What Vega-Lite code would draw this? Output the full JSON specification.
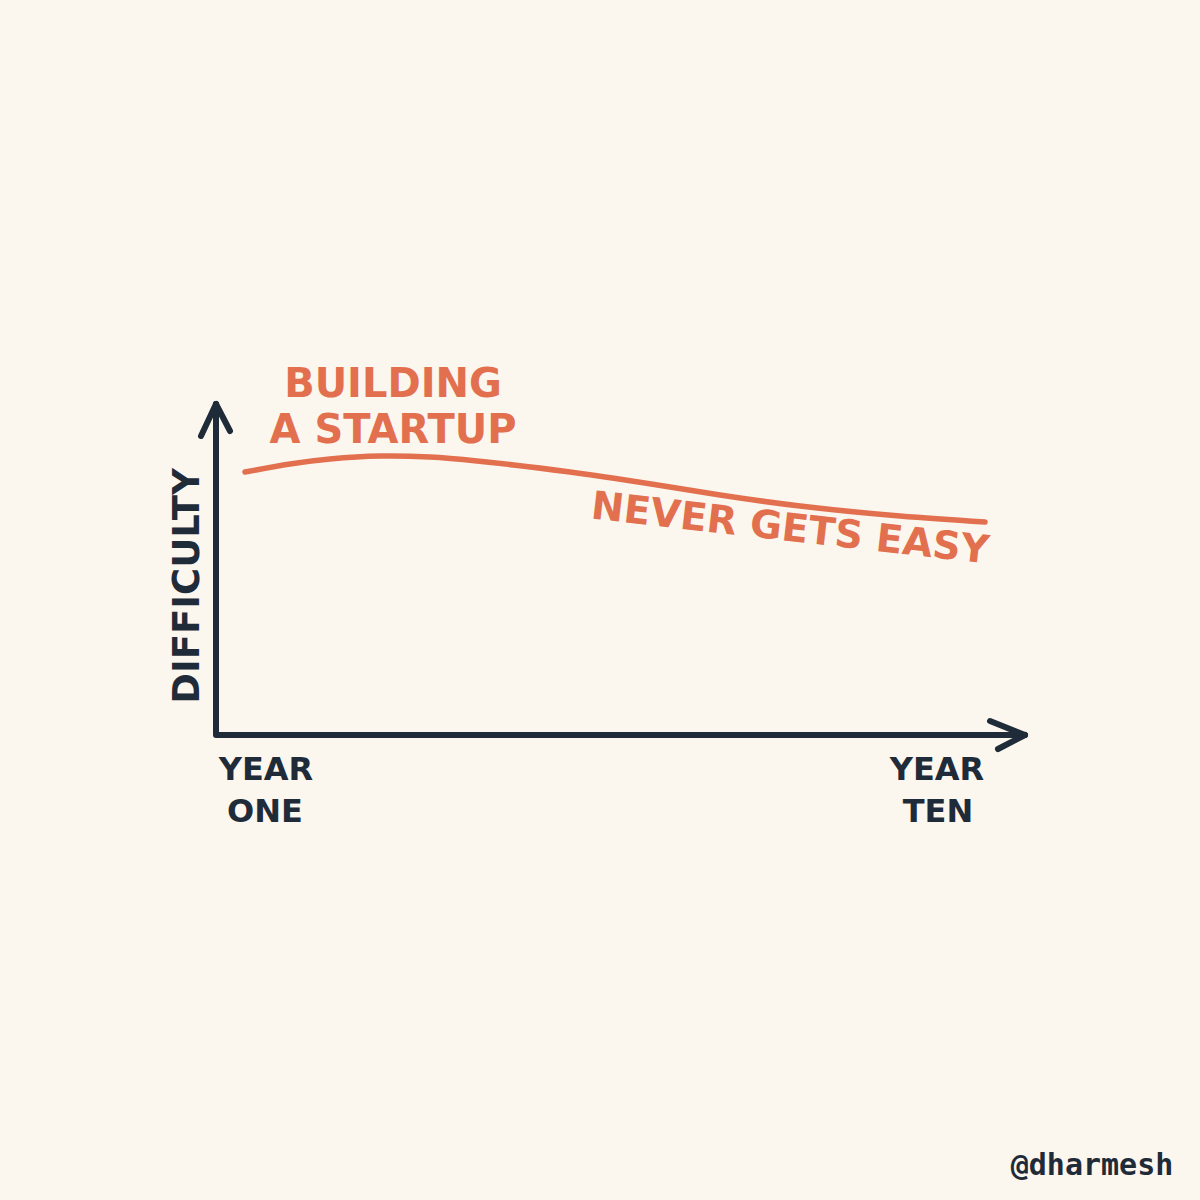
{
  "$schema": "https://vega.github.io/schema/vega-lite/v6.json",
  "width": 1200,
  "height": 1200,
  "autosize": {"type": "fit", "contains": "padding"},
  "padding": 0,
  "background": "#FBF6EE",
  "config": {"view": {"stroke": null}},
  "layer": [
    {
      "data": {"values": [
        {"x": 216, "y": 796, "seq": 1},
        {"x": 216, "y": 465, "seq": 2},
        {"x": 1025, "y": 465, "seq": 3}
      ]},
      "mark": {"type": "line", "color": "#1F2B38", "strokeWidth": 6, "strokeCap": "round", "strokeJoin": "round"},
      "encoding": {
        "x": {"field": "x", "type": "quantitative", "scale": {"domain": [0, 1200], "nice": false, "zero": false}, "axis": null},
        "y": {"field": "y", "type": "quantitative", "scale": {"domain": [0, 1200], "nice": false, "zero": false}, "axis": null},
        "order": {"field": "seq", "type": "quantitative"}
      }
    },
    {
      "data": {"values": [
        {"x": 201, "y": 764, "x2": 216, "y2": 796},
        {"x": 230, "y": 769, "x2": 216, "y2": 796},
        {"x": 990, "y": 479, "x2": 1025, "y2": 465},
        {"x": 998, "y": 451, "x2": 1025, "y2": 465}
      ]},
      "mark": {"type": "rule", "color": "#1F2B38", "strokeWidth": 6, "strokeCap": "round"},
      "encoding": {
        "x": {"field": "x", "type": "quantitative"},
        "y": {"field": "y", "type": "quantitative"},
        "x2": {"field": "x2"},
        "y2": {"field": "y2"}
      }
    },
    {
      "data": {"values": [
        {"x": 245, "y": 728},
        {"x": 290, "y": 736},
        {"x": 330, "y": 741},
        {"x": 380, "y": 744},
        {"x": 430, "y": 743},
        {"x": 477, "y": 739},
        {"x": 570, "y": 728},
        {"x": 670, "y": 713},
        {"x": 720, "y": 705},
        {"x": 800, "y": 694},
        {"x": 900, "y": 684},
        {"x": 985, "y": 678}
      ]},
      "mark": {"type": "line", "color": "#E2704F", "strokeWidth": 5.5, "strokeCap": "round", "interpolate": "natural"},
      "encoding": {
        "x": {"field": "x", "type": "quantitative"},
        "y": {"field": "y", "type": "quantitative"}
      }
    },
    {
      "data": {"values": [
        {"label": "BUILDING", "x": 393, "y": 803},
        {"label": "A STARTUP", "x": 393, "y": 757}
      ]},
      "mark": {"type": "text", "font": "DejaVu Sans", "fontWeight": "bold", "fontSize": 40, "color": "#E2704F", "align": "center", "baseline": "alphabetic"},
      "encoding": {
        "x": {"field": "x", "type": "quantitative"},
        "y": {"field": "y", "type": "quantitative"},
        "text": {"field": "label"}
      }
    },
    {
      "data": {"values": [
        {"label": "NEVER GETS EASY", "x": 790, "y": 671}
      ]},
      "mark": {"type": "text", "font": "DejaVu Sans", "fontWeight": "bold", "fontSize": 39, "color": "#E2704F", "align": "center", "baseline": "middle", "angle": 6.5},
      "encoding": {
        "x": {"field": "x", "type": "quantitative"},
        "y": {"field": "y", "type": "quantitative"},
        "text": {"field": "label"}
      }
    },
    {
      "data": {"values": [
        {"label": "YEAR", "x": 266, "y": 420},
        {"label": "ONE", "x": 265, "y": 378},
        {"label": "YEAR", "x": 937, "y": 420},
        {"label": "TEN", "x": 938, "y": 378}
      ]},
      "mark": {"type": "text", "font": "DejaVu Sans", "fontWeight": "bold", "fontSize": 32, "color": "#1F2B38", "align": "center", "baseline": "alphabetic"},
      "encoding": {
        "x": {"field": "x", "type": "quantitative"},
        "y": {"field": "y", "type": "quantitative"},
        "text": {"field": "label"}
      }
    },
    {
      "data": {"values": [
        {"label": "DIFFICULTY", "x": 188, "y": 614}
      ]},
      "mark": {"type": "text", "font": "DejaVu Sans", "fontWeight": "bold", "fontSize": 37, "color": "#1F2B38", "align": "center", "baseline": "middle", "angle": 270},
      "encoding": {
        "x": {"field": "x", "type": "quantitative"},
        "y": {"field": "y", "type": "quantitative"},
        "text": {"field": "label"}
      }
    },
    {
      "data": {"values": [
        {"label": "@dharmesh", "x": 1092, "y": 25}
      ]},
      "mark": {"type": "text", "font": "DejaVu Sans Mono", "fontWeight": "bold", "fontSize": 30, "color": "#1F2B38", "align": "center", "baseline": "alphabetic"},
      "encoding": {
        "x": {"field": "x", "type": "quantitative"},
        "y": {"field": "y", "type": "quantitative"},
        "text": {"field": "label"}
      }
    }
  ]
}
